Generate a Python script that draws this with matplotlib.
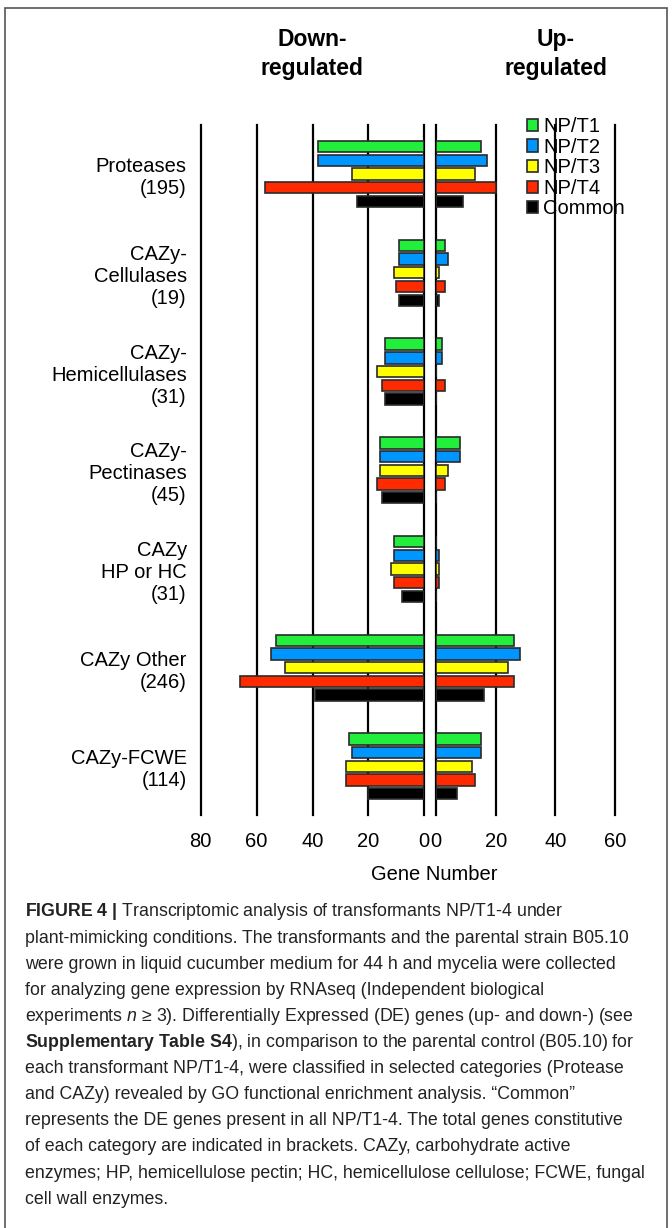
import matplotlib
matplotlib.use("Agg")
import matplotlib.pyplot as plt
from matplotlib.patches import Patch, Rectangle

plt.rcParams['font.family'] = ['Liberation Sans', 'DejaVu Sans']
plt.rcParams['mathtext.fontset'] = 'custom'
plt.rcParams['mathtext.rm'] = 'Liberation Sans'
plt.rcParams['mathtext.bf'] = 'Liberation Sans:bold'
plt.rcParams['mathtext.it'] = 'Liberation Sans:italic'

# Données
categories = ['Proteases\n(195)', 'CAZy-\nCellulases\n(19)', 'CAZy-\nHemicellulases\n(31)',
              'CAZy-\nPectinases\n(45)', 'CAZy\nHP or HC\n(31)', 'CAZy Other\n(246)',
              'CAZy-FCWE\n(114)']
series = ['NP/T1', 'NP/T2', 'NP/T3', 'NP/T4', 'Common']
colors = ['#22ee3c', '#0096ff', '#ffff00', '#ff2a00', '#000000']

down_np1 = [38, 9, 14, 16, 11, 53, 27]
down_np2 = [38, 9, 14, 16, 11, 55, 26]
down_np3 = [26, 11, 17, 16, 12, 50, 28]
down_np4 = [57, 10, 15, 17, 11, 66, 28]
down_common = [24, 9, 14, 15, 8, 39, 20]

up_np1 = [15, 3, 2, 8, 0, 26, 15]
up_np2 = [17, 4, 2, 8, 1, 28, 15]
up_np3 = [13, 1, 0, 4, 1, 24, 12]
up_np4 = [20, 3, 3, 3, 1, 26, 13]
up_common = [9, 1, 0, 0, 0, 16, 7]

down_ticks = [80, 60, 40, 20, 0]
up_ticks = [0, 20, 40, 60]

down = [down_np1, down_np2, down_np3, down_np4, down_common]
up = [up_np1, up_np2, up_np3, up_np4, up_common]

W, H = 672, 1228
fig = plt.figure(figsize=(W / 100, H / 100), dpi=100)

top, bottom = 125, 815
ax_d = fig.add_axes([200.7 / W, 1 - bottom / H, (424.3 - 200.7) / W, (bottom - top) / H])
ax_u = fig.add_axes([436 / W, 1 - bottom / H, (615 - 436) / W, (bottom - top) / H])

step = 0.1387
bar_h = 0.115

for ax, data, ticks, lim in [(ax_d, down, down_ticks, (80, 0)), (ax_u, up, up_ticks, (0, 60))]:
    for j, vals in enumerate(data):
        ys = [i + j * step for i in range(len(categories))]
        ax.barh(ys, vals, height=bar_h, color=colors[j], edgecolor='#2a2a2a',
                linewidth=1.2, zorder=3)
    for t in ticks:
        ax.axvline(t, color='black', linewidth=1.6, zorder=1, clip_on=False)
    ax.set_xlim(*lim)
    ax.set_ylim(6.77, -0.22)
    ax.set_xticks(ticks)
    ax.set_xticklabels([str(t) for t in ticks])
    ax.tick_params(axis='x', length=0, labelsize=14.5, pad=12)
    for s in ax.spines.values():
        s.set_visible(False)
    ax.set_facecolor('none')

ax_d.set_yticks([i + 2 * step for i in range(len(categories))])
ax_d.set_yticklabels(categories, fontsize=14.5, multialignment='right', linespacing=1.2)
ax_d.tick_params(axis='y', length=0, pad=10)
ax_u.set_yticks([])

# Titres
fig.text(312 / W, 1 - 54 / H, 'Down-\nregulated', ha='center', va='center',
         fontsize=16.5, fontweight='bold', linespacing=1.3)
fig.text(556 / W, 1 - 54 / H, 'Up-\nregulated', ha='center', va='center',
         fontsize=16.5, fontweight='bold', linespacing=1.3)
fig.text(434 / W, 1 - 874 / H, 'Gene Number', ha='center', va='center', fontsize=14.5)

# Légende
handles = [Patch(facecolor=c, edgecolor='#2a2a2a', linewidth=1.2) for c in colors]
fig.legend(handles, series, loc='upper left', bbox_to_anchor=(527 / W, 1 - 117 / H),
           frameon=False, fontsize=14.5, handlelength=0.55, handleheight=0.55,
           handletextpad=0.25, labelspacing=0.08, borderpad=0, borderaxespad=0)

# Légende de la figure
caption = [
    r'$\mathbf{FIGURE\ 4\ |}$ Transcriptomic analysis of transformants NP/T1-4 under',
    'plant-mimicking conditions. The transformants and the parental strain B05.10',
    'were grown in liquid cucumber medium for 44 h and mycelia were collected',
    'for analyzing gene expression by RNAseq (Independent biological',
    r'experiments $n$ ≥ 3). Differentially Expressed (DE) genes (up- and down-) (see',
    r'$\mathbf{Supplementary\ Table\ S4}$), in comparison to the parental control (B05.10) for',
    'each transformant NP/T1-4, were classified in selected categories (Protease',
    'and CAZy) revealed by GO functional enrichment analysis. \u201cCommon\u201d',
    'represents the DE genes present in all NP/T1-4. The total genes constitutive',
    'of each category are indicated in brackets. CAZy, carbohydrate active',
    'enzymes; HP, hemicellulose pectin; HC, hemicellulose cellulose; FCWE, fungal',
    'cell wall enzymes.',
]
for k, line in enumerate(caption):
    fig.text(25 / W, 1 - (912 + 26.1 * k) / H, line, ha='left', va='center',
             fontsize=12.8, color='#222222')

# Cadre
fig.add_artist(Rectangle((5 / W, -0.01), 662 / W, 1 - 8 / H + 0.01, transform=fig.transFigure,
                         fill=False, edgecolor='#555555', linewidth=1.2))

fig.savefig('out.png', dpi=100)
